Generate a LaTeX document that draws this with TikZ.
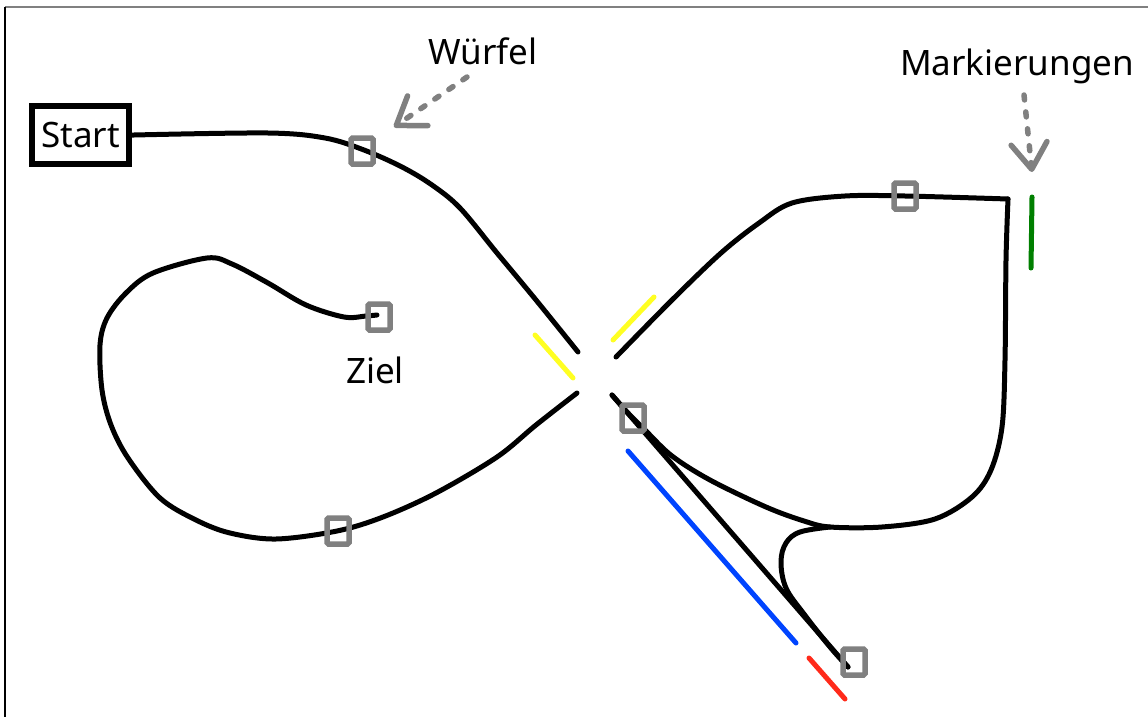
\documentclass[tikz,border=0pt]{standalone}
\usepackage{fontspec}
\setmainfont{Noto Sans}
\usetikzlibrary{arrows.meta}
\definecolor{boxgray}{HTML}{808080}
\definecolor{mkyellow}{HTML}{FFFF22}
\definecolor{mkgreen}{HTML}{007F00}
\definecolor{mkblue}{HTML}{0044FF}
\definecolor{mkred}{HTML}{FF2A1A}
\tikzset{
  track/.style={line width=5pt, line cap=round, line join=round, black},
  marker/.style={line width=5pt, line cap=round},
  field/.style={draw=boxgray, line width=5.5pt, rounded corners=1.5pt,
    minimum width=22pt, minimum height=26pt, inner sep=0pt},
  label/.style={font=\fontsize{35}{42}\selectfont, anchor=base, inner sep=0pt},
  hint/.style={draw=boxgray, line width=5.5pt, line cap=round, line join=round,
    dash pattern=on 5pt off 12pt,
    -{Straight Barb[length=26pt, width=36pt, line cap=round, line join=round]}},
}
\begin{document}
\begin{tikzpicture}[x=1pt, y=-1pt]
\useasboundingbox (0,0) rectangle (1148,717);

% frame edges
\draw[boxgray, line width=2pt] (5,7) -- (1148,7);
\draw[black, line width=2pt] (5,7) -- (5,717);

% start box
\node[draw, line width=6pt, minimum width=97pt, minimum height=58pt, inner sep=0pt,
  font=\fontsize{35}{42}\selectfont] (start) at (80.5,135) {Start};

% track from start to the crossing
\draw[track] (start.east) -- plot[smooth, tension=0.55] coordinates {
  (134,135) (268,133) (325,138) (364,150) (402,167) (432,185) (460,208)
  (497,253) (536,300) (578,352)};

% left loop ending at the goal
\draw[track] plot[smooth, tension=0.55] coordinates {
  (577,393) (536,425) (497,457) (436,493) (383,517) (337,531) (276,539)
  (230,533) (196,520) (160,498) (128,458) (111,425) (102,390) (100,345)
  (107,318) (126,293) (153,273) (207,258) (232,264) (268,283) (306,305)
  (344,317) (366,316) (377,315)};

% upper right arc to the corner
\draw[track] plot[smooth, tension=0.55] coordinates {
  (616,357) (672,300) (721,253) (759,223) (792,203) (845,196) (905,196) (1008,199)};

% right side down through the junction and back up to the crossing
\draw[track] plot[smooth, tension=0.55] coordinates {
  (1008,199) (1006,260) (1005,360) (1002,427) (991,470) (972,497) (935,519)
  (882,527) (830,527) (804,521) (766,507) (710,480) (672,456) (646,431) (628,413) (612,395)};

% short loop from the junction down to the last field
\draw[track] plot[smooth, tension=0.6] coordinates {
  (830,527) (800,532) (786,543) (781,562) (786,588) (804,614) (830,647) (848,667)};

% straight shortcut
\coordinate (cross) at (612,395);
\coordinate (endpt) at (848,667);
\draw[track] (cross) -- (endpt);

% coloured markings
\draw[marker, mkyellow] (535,335) -- (573,378);
\draw[marker, mkyellow] (613,340) -- (654,297);
\draw[marker, mkgreen] (1032,197) -- (1031,268);
\draw[marker, mkblue] (628,451) -- (796,643);
\draw[marker, mkred] (809,658) -- (845,699);

% dice fields
\node[field] (f1) at (362,151) {};
\node[field] (f2) at (379,317) {};
\node[field] (f3) at (338,531) {};
\node[field] (f4) at (633,418) {};
\node[field] (f5) at (854,662) {};
\node[field] (f6) at (905,196) {};

% labels
\node[label] (wuerfel) at (483,65) {Würfel};
\node[label] (mark) at (1017,75) {Markierungen};
\node[label] (ziel) at (375,383) {Ziel};

% hint arrows
\coordinate (wtip) at (394,127);
\coordinate (mtip) at (1032,172);
\draw[hint] (467,77) -- (wtip);
\draw[hint] (1024,95) -- (mtip);
\end{tikzpicture}
\end{document}
